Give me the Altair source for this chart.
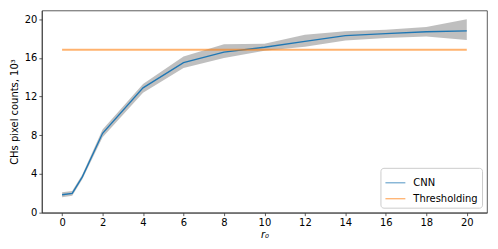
import altair as alt
import pandas as pd

r0 = [0, 0.5, 1, 2, 4, 6, 8, 10, 12, 14, 16, 18, 20]
cnn_mean = [1.85, 2.0, 3.7, 8.2, 12.9, 15.5, 16.6, 17.1, 17.7, 18.3, 18.5, 18.7, 18.8]
cnn_low = [1.6, 1.75, 3.45, 7.8, 12.4, 14.95, 16.0, 16.75, 17.15, 17.8, 18.05, 18.2, 17.85]
cnn_high = [2.1, 2.25, 3.95, 8.6, 13.3, 16.15, 17.4, 17.45, 18.4, 18.75, 18.9, 19.2, 20.0]
thr_x = [0, 20]
thr_y = [16.85, 16.85]

series = ["CNN", "Thresholding"]
colors = ["#1f77b4", "#ff7f0e"]

cnn = pd.DataFrame({"r0": r0, "mean": cnn_mean, "low": cnn_low, "high": cnn_high, "method": "CNN"})
thr = pd.DataFrame({"r0": thr_x, "val": thr_y, "method": "Thresholding"})

xs = alt.Scale(domain=[-1, 21], nice=False, zero=False)
ys = alt.Scale(domain=[0, 20.9], nice=False, zero=False)

xaxis = alt.Axis(values=list(range(0, 21, 2)), title="r₀", titleFontStyle="italic")
yaxis = alt.Axis(values=[0, 4, 8, 12, 16, 20], title="CHs pixel counts, 10³")

color = alt.Color("method:N", scale=alt.Scale(domain=series, range=colors),
                  legend=alt.Legend(title=None, orient="bottom-right", symbolType="stroke",
                                    symbolSize=400, symbolStrokeWidth=1.3, offset=5,
                                    padding=4, strokeColor="#cccccc", fillColor="white",
                                    cornerRadius=3, labelFontSize=10, rowPadding=-5,
                                    labelOffset=7))

band = alt.Chart(cnn).mark_area(color="gray", opacity=0.5).encode(
    x=alt.X("r0:Q", scale=xs, axis=xaxis),
    y=alt.Y("low:Q", scale=ys, axis=yaxis),
    y2="high:Q",
)
line = alt.Chart(cnn).mark_line(strokeWidth=1.3).encode(
    x=alt.X("r0:Q", scale=xs),
    y=alt.Y("mean:Q", scale=ys),
    color=color,
)
tline = alt.Chart(thr).mark_line(strokeWidth=2, opacity=0.6).encode(
    x=alt.X("r0:Q", scale=xs),
    y=alt.Y("val:Q", scale=ys),
    color=color,
)

chart = alt.layer(band, line, tline).properties(
    width=447, height=203,
    autosize=alt.AutoSizeParams(type="none"),
    padding={"left": 34, "top": 2, "right": 3, "bottom": 36},
).configure_view(
    stroke="#333333", strokeWidth=0.8
).configure_axis(
    grid=False, labelFont="DejaVu Sans", titleFont="DejaVu Sans",
    labelFontSize=10, titleFontSize=10, labelColor="black", titleColor="black",
    domainColor="#333333", domainWidth=0.8, tickColor="#333333", tickWidth=0.8,
    tickSize=3, labelPadding=2, titleFontWeight="normal",
).configure_axisY(
    titlePadding=5, labelPadding=2
).configure_axisX(
    titlePadding=2
).configure_legend(
    labelFont="DejaVu Sans", labelColor="black"
)

chart.save("out.html", embed_options={"renderer": "svg", "actions": False})
